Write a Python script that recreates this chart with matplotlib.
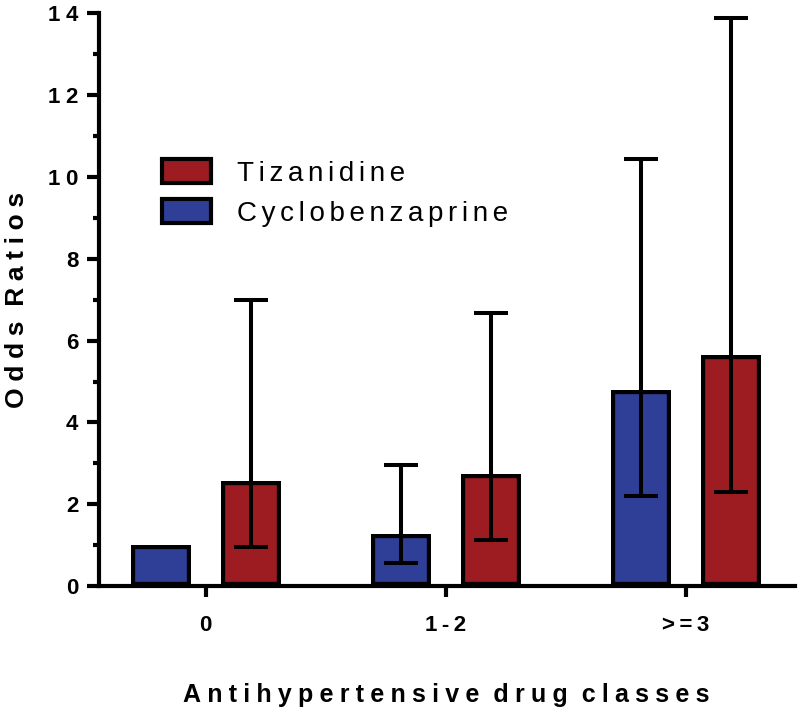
import matplotlib
matplotlib.use("Agg")
import matplotlib.pyplot as plt
from matplotlib.patches import Patch
from matplotlib.ticker import MultipleLocator, FuncFormatter
import numpy as np

# ---- data ----
categories = ["0", "1-2", ">=3"]
series_names = ["Tizanidine", "Cyclobenzaprine"]
cyclo_or = [1.0, 1.28, 4.80]
cyclo_lo = [None, 0.57, 2.20]
cyclo_hi = [None, 2.96, 10.43]
tiza_or = [2.57, 2.73, 5.66]
tiza_lo = [0.95, 1.12, 2.31]
tiza_hi = [6.99, 6.68, 13.89]
y_label = "Odds Ratios"
x_label = "Antihypertensive drug classes"

BLUE = "#2F3F98"
RED = "#9D1C21"
FAM = ["Liberation Sans", "DejaVu Sans"]
plt.rcParams["font.family"] = FAM

THIN = "\u2009"
QUARTER = "\u2005"
SIXTH = "\u2006"


def spaced(s, sp):
    return sp.join(list(s))


fig = plt.figure(figsize=(8.0, 7.12), dpi=100)
ax = fig.add_axes([99 / 800, 1 - 586 / 712, 696 / 800, (586 - 13.4) / 712])

x = np.arange(len(categories))
w = 0.25
off = 0.1875

def draw_bars(xpos, vals, color):
    bars = ax.bar(xpos, vals, width=w, color=color, edgecolor="black",
                  linewidth=6.0, zorder=2)
    for b in bars:
        b.set_clip_path(b)
    return bars

draw_bars(x - off, cyclo_or, BLUE)
draw_bars(x + off, tiza_or, RED)

def draw_err(xpos, vals, lo, hi):
    xs, ys, el, eh = [], [], [], []
    for xi, v, l, h in zip(xpos, vals, lo, hi):
        if l is None or h is None:
            continue
        xs.append(xi); ys.append(v); el.append(v - l); eh.append(h - v)
    ax.errorbar(xs, ys, yerr=[el, eh], fmt="none", ecolor="black",
                elinewidth=2.9, capsize=12, capthick=2.9, zorder=3)

draw_err(x - off, cyclo_or, cyclo_lo, cyclo_hi)
draw_err(x + off, tiza_or, tiza_lo, tiza_hi)

ax.set_xlim(-0.445, 2.455)
ax.set_ylim(0, 14)

for s in ["top", "right"]:
    ax.spines[s].set_visible(False)
for s in ["left", "bottom"]:
    ax.spines[s].set_linewidth(3.0)
    ax.spines[s].set_capstyle("projecting")

ax.yaxis.set_major_locator(MultipleLocator(2))
ax.yaxis.set_minor_locator(MultipleLocator(1))
ax.yaxis.set_major_formatter(FuncFormatter(lambda v, p: spaced(f"{v:.0f}", QUARTER)))
ax.tick_params(axis="y", which="major", direction="out", length=9, width=3,
               pad=6, labelsize=16)
ax.tick_params(axis="y", which="minor", direction="out", length=4.5, width=3)
ax.set_xticks(x)
ax.set_xticklabels([spaced(c, THIN) for c in categories])
ax.tick_params(axis="x", direction="out", length=8, width=3, pad=13, labelsize=16)
for lab in ax.get_xticklabels() + ax.get_yticklabels():
    lab.set_fontweight("bold")

fig.text(17 / 800, 1 - 300 / 712, spaced("Odds", QUARTER) + "  " + spaced("Ratios", QUARTER),
         rotation=90, ha="center", va="center", fontsize=19, fontweight="bold")
words = x_label.split(" ")
fig.text(446 / 800, 1 - 702 / 712, "  ".join(spaced(wd, QUARTER) for wd in words),
         ha="center", va="baseline", fontsize=18, fontweight="bold")

handles = [Patch(facecolor=RED, edgecolor="black", linewidth=3.0),
           Patch(facecolor=BLUE, edgecolor="black", linewidth=3.0)]
leg = ax.legend(handles, [spaced(n, SIXTH) for n in series_names],
                loc="upper left", bbox_to_anchor=(162 / 800, 1 - 159 / 712),
                bbox_transform=fig.transFigure, frameon=False, fontsize=20,
                handlelength=1.75, handleheight=0.95, handletextpad=0.95,
                labelspacing=0.45, borderpad=0, borderaxespad=0)

fig.savefig("out.png", dpi=100)
